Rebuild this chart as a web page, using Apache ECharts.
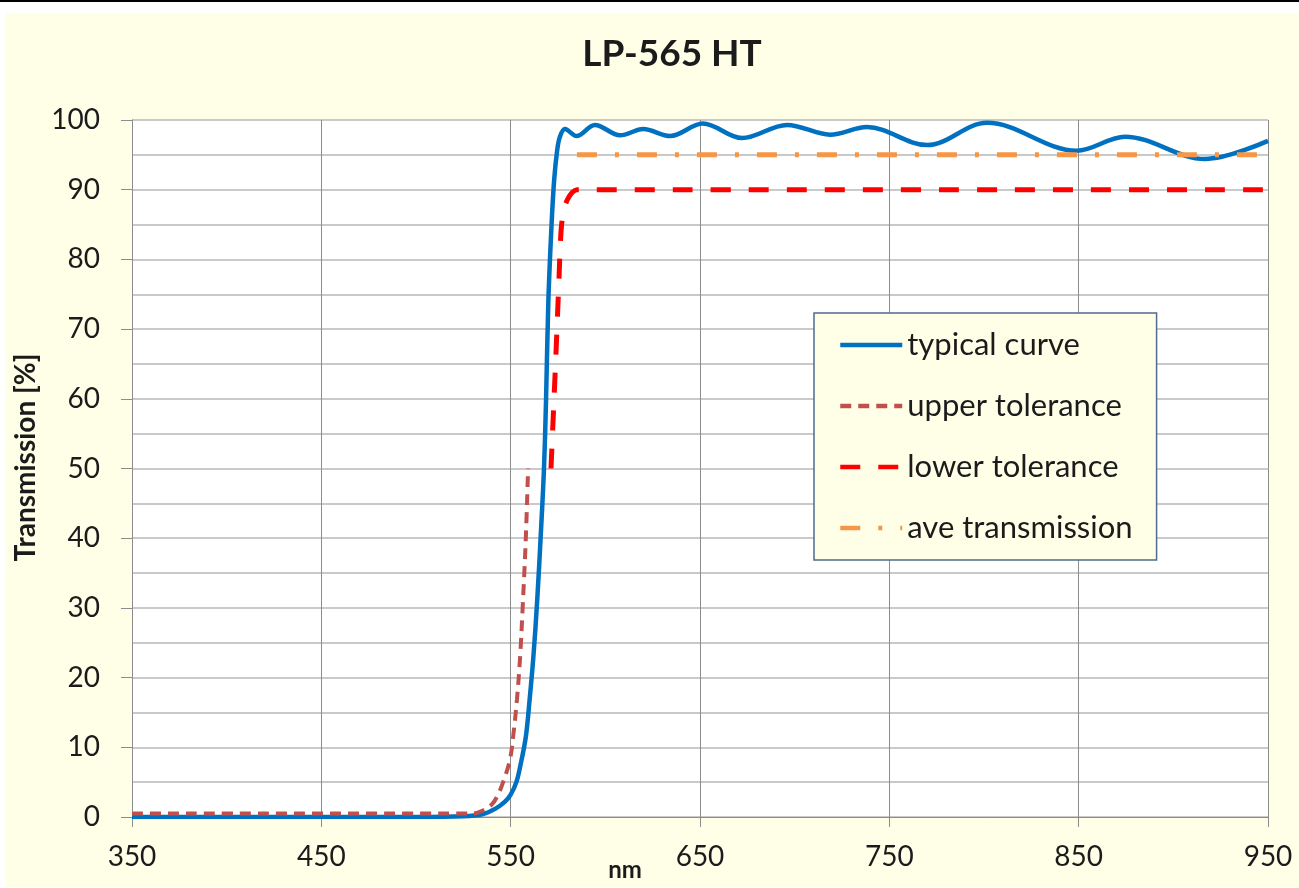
<!DOCTYPE html>
<html>
<head>
<meta charset="utf-8">
<title>LP-565 HT</title>
<script src="https://cdn.jsdelivr.net/npm/echarts@6/dist/echarts.min.js"></script>
<style>
  html, body { margin: 0; padding: 0; background: #fff; }
  body { width: 1299px; height: 888px; position: relative; overflow: hidden; }
  .topline { position: absolute; left: 0; top: 0; width: 1299px; height: 2px; background: #000; }
  #chart { position: absolute; left: 6px; top: 13px; width: 1293px; height: 874px; }
</style>
</head>
<body>
<div class="topline"></div>
<div id="chart"></div>
<script>
// wavelength (nm) / transmission (%)
const typicalNm = [350, 500, 525, 535, 542, 547, 550, 553, 555, 558, 560, 562, 564, 566, 567.6, 568.7, 569.9, 571.6, 573, 574.5, 576,
  578.7, 584.8, 594.5, 607.8, 620, 634.2, 651.5, 672.2, 696, 718.7, 738.2, 770, 801.6, 849, 874.5, 916.8, 950];
const typicalT = [0, 0, 0.1, 0.4, 1.2, 2.2, 3.2, 5, 7.2, 11.5, 16.8, 23, 31, 41, 50, 60, 74, 85, 91.5, 95.5, 97.6,
  98.7, 97.7, 99.3, 97.8, 98.7, 97.7, 99.5, 97.4, 99.3, 97.9, 99.0, 96.4, 99.6, 95.6, 97.6, 94.4, 97.0];

const upperNm = [350, 530, 535, 540, 543, 546, 549.6, 551.5, 553.3, 555, 556.5, 558, 559.2];
const upperT = [0.5, 0.5, 0.9, 1.8, 3, 5, 8.2, 12, 16.8, 23, 31, 40, 50];

const lowerNm = [571.3, 572.5, 574, 575.5, 576.6, 578, 580, 582.5, 585, 950];
const lowerT = [50, 57.5, 67, 77, 84, 87, 88.6, 89.6, 90, 90];

const aveNm = [585, 950];
const aveT = [95, 95];

const xTicks = [350, 450, 550, 650, 750, 850, 950];
const yTicks = [0, 10, 20, 30, 40, 50, 60, 70, 80, 90, 100];

const pairs = (xs, ys) => xs.map((x, i) => [x, ys[i]]);

const chart = echarts.init(document.getElementById('chart'));

const font = 'Lato, "Open Sans", sans-serif';
const textColor = '#1b1b1b';

chart.setOption({
  backgroundColor: '#FFFFE8',
  animation: false,
  textStyle: { fontFamily: font },
  title: {
    text: 'LP-565 HT',
    left: 661,
    top: 18,
    textAlign: 'center',
    textStyle: { fontFamily: font, fontSize: 37, fontWeight: 'bold', color: textColor }
  },
  grid: {
    left: 126,
    right: 31,
    top: 107,
    bottom: 70,
    outerBoundsMode: 'none',
    containLabel: false,
    show: true,
    backgroundColor: '#fff',
    borderWidth: 0
  },
  legend: {
    left: 808,
    top: 300,
    orient: 'vertical',
    backgroundColor: '#FFFFE8',
    borderColor: '#4F6B8F',
    borderWidth: 1.5,
    borderRadius: 0,
    padding: [16, 24, 16, 24],
    itemGap: 29,
    itemWidth: 62,
    itemHeight: 14,
    itemStyle: { opacity: 0 },
    lineStyle: { width: 4.5 },
    textStyle: { fontFamily: font, fontSize: 31, color: textColor, lineHeight: 32 },
    data: ['typical curve', 'upper tolerance', 'lower tolerance', 'ave transmission']
  },
  xAxis: {
    type: 'value',
    min: xTicks[0],
    max: xTicks[xTicks.length - 1],
    interval: 100,
    name: 'nm',
    nameLocation: 'middle',
    nameGap: 53,
    nameMoveOverlap: false,
    nameTextStyle: { fontFamily: font, fontSize: 24, fontWeight: 'bold', color: textColor, padding: [0, 150, 0, 0], verticalAlign: 'middle', lineHeight: 24 },
    axisLine: { lineStyle: { color: '#8c8c8c', width: 1 } },
    axisTick: { show: true, length: 10, lineStyle: { color: '#8c8c8c' } },
    axisLabel: { fontFamily: font, fontSize: 28, color: textColor, margin: 26 },
    splitLine: { show: true, lineStyle: { color: '#8c8c8c', width: 1 } }
  },
  yAxis: {
    type: 'value',
    min: yTicks[0],
    max: yTicks[yTicks.length - 1],
    interval: 10,
    name: 'Transmission [%]',
    nameLocation: 'middle',
    nameGap: 92,
    nameMoveOverlap: false,
    nameTextStyle: { fontFamily: font, fontSize: 28, fontWeight: 'bold', color: textColor, padding: [0, 0, 0, 22] },
    axisLine: { show: true, lineStyle: { color: '#8c8c8c', width: 1 } },
    axisTick: { show: true, length: 11, lineStyle: { color: '#8c8c8c' } },
    axisLabel: { fontFamily: font, fontSize: 28, color: textColor, margin: 32 },
    splitLine: { show: true, lineStyle: { color: '#b8b8b8', width: 1.5 } },
    minorTick: { show: false, splitNumber: 2 },
    minorSplitLine: { show: true, lineStyle: { color: '#b8b8b8', width: 1.5 } }
  },
  series: [
    {
      name: 'typical curve',
      type: 'line',
      data: pairs(typicalNm, typicalT),
      symbol: 'none',
      smooth: 0.35,
      color: '#0070C0',
      lineStyle: { color: '#0070C0', width: 4.5 }
    },
    {
      name: 'upper tolerance',
      type: 'line',
      data: pairs(upperNm, upperT),
      symbol: 'none',
      smooth: 0.35,
      color: '#C0504D',
      lineStyle: { color: '#C0504D', width: 4, type: [11, 7] }
    },
    {
      name: 'lower tolerance',
      type: 'line',
      data: pairs(lowerNm, lowerT),
      symbol: 'none',
      smooth: 0.35,
      color: '#FF0000',
      lineStyle: { color: '#FF0000', width: 5, type: [20, 18] }
    },
    {
      name: 'ave transmission',
      type: 'line',
      data: pairs(aveNm, aveT),
      symbol: 'none',
      color: '#F79646',
      lineStyle: { color: '#F79646', width: 5, type: [20, 18, 4, 18] }
    }
  ]
});
</script>
</body>
</html>
